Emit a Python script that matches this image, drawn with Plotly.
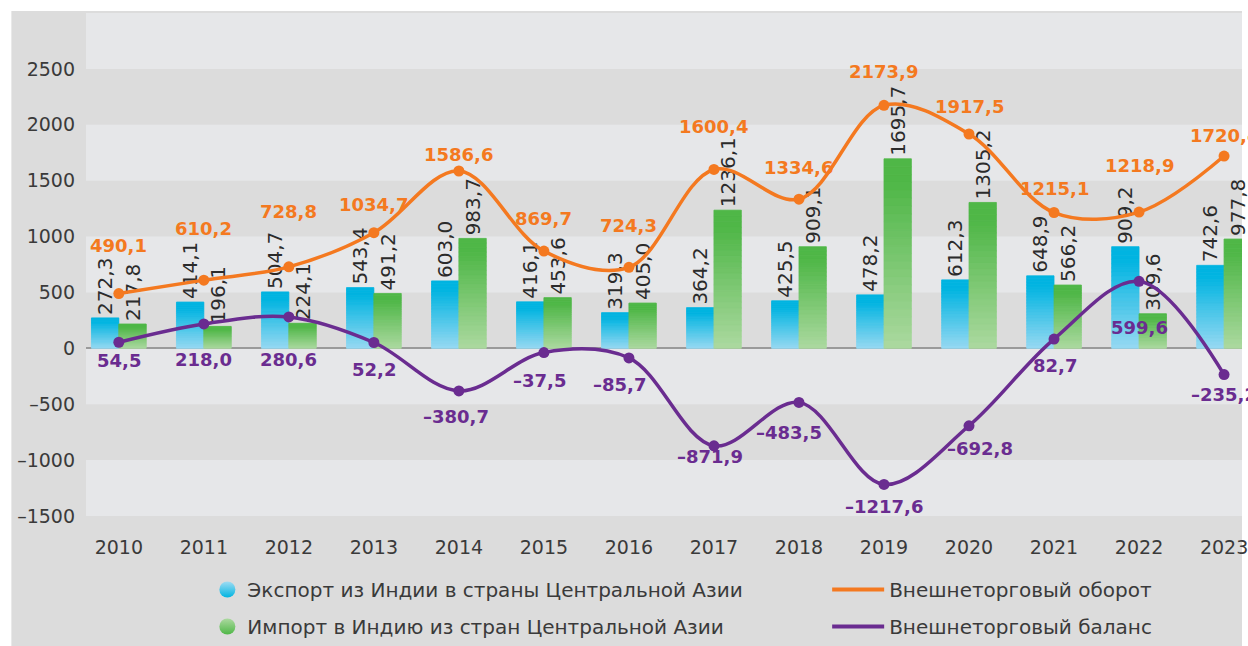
import plotly.graph_objects as go

years = [2010, 2011, 2012, 2013, 2014, 2015, 2016, 2017, 2018, 2019, 2020, 2021, 2022, 2023]
export_vals = [272.3, 414.1, 504.7, 543.4, 603.0, 416.1, 319.3, 364.2, 425.5, 478.2, 612.3, 648.9, 909.2, 742.6]
import_vals = [217.8, 196.1, 224.1, 491.2, 983.7, 453.6, 405.0, 1236.1, 909.1, 1695.7, 1305.2, 566.2, 309.6, 977.8]
turnover = [490.1, 610.2, 728.8, 1034.7, 1586.6, 869.7, 724.3, 1600.4, 1334.6, 2173.9, 1917.5, 1215.1, 1218.9, 1720.4]
balance = [54.5, 218.0, 280.6, 52.2, -380.7, -37.5, -85.7, -871.9, -483.5, -1217.6, -692.8, 82.7, 599.6, -235.2]

y_tickvals = [-1500, -1000, -500, 0, 500, 1000, 1500, 2000, 2500]
y_ticktext = ["–1500", "–1000", "–500", "0", "500", "1000", "1500", "2000", "2500"]

names = {
    "exp": "Экспорт из Индии в страны Центральной Азии",
    "imp": "Импорт в Индию из стран Центральной Азии",
    "turn": "Внешнеторговый оборот",
    "bal": "Внешнеторговый баланс",
}

# style-only label offsets (pixels)
turn_yshift = [48, 52, 55, 28, 16, 33, 42, 43, 32, 34, 28, 24, 47, 21]
bal_yshift = [-18, -36, -43, -27, -26, -28, -27, -11, -30, -22, -23, -26, -46, -20]
bal_xshift = [0, 0, 0, 0, -3, -4, -9, -4, -10, 0, 11, 1, 0, 0]

ORANGE = "#f47920"
PURPLE = "#6a2c90"
TEXT = "#2b2b2b"
TICK = "#3a3a3a"
FONT = "DejaVu Sans"

W, H = 1248, 646
ML, MT, MB = 86, 13, 130
PW, PH = W - ML, H - MT - MB
PX_PER_YEAR = 85.46
X0 = 2009.614


def fmt(v):
    s = f"{abs(v):.1f}".replace(".", ",")
    return ("–" if v < 0 else "") + s


def mix(c1, c2, t):
    a = [int(c1[i:i + 2], 16) for i in (1, 3, 5)]
    b = [int(c2[i:i + 2], 16) for i in (1, 3, 5)]
    return "rgb(%d,%d,%d)" % tuple(round(a[k] + (b[k] - a[k]) * t) for k in range(3))


fig = go.Figure()

N = 24
for key, vals, bottom, top in [
    ("exp", export_vals, "#97d9f2", "#00b4e1"),
    ("imp", import_vals, "#acd9a0", "#4fb747"),
]:
    for i in range(N):
        last = i == N - 1
        col = mix(bottom, top, min(1.0, (i + 0.5) / N * 1.15))
        fig.add_trace(go.Bar(
            x=years,
            y=[v / N for v in vals],
            base=[v * i / N for v in vals],
            offsetgroup=key,
            marker=dict(color=col, line=dict(width=0.8, color=col)),
            text=[fmt(v) for v in vals] if last else None,
            textposition="outside" if last else "none",
            textangle=-90,
            constraintext="none",
            cliponaxis=False,
            textfont=dict(family=FONT, size=20, color=TEXT),
            showlegend=False,
            hoverinfo="skip",
        ))

fig.add_trace(go.Scatter(
    x=years, y=turnover, mode="lines+markers", name=names["turn"], showlegend=False,
    line=dict(color=ORANGE, width=3.5, shape="spline", smoothing=1.0),
    marker=dict(color=ORANGE, size=11),
))
fig.add_trace(go.Scatter(
    x=years, y=balance, mode="lines+markers", name=names["bal"], showlegend=False,
    line=dict(color=PURPLE, width=3.5, shape="spline", smoothing=1.0),
    marker=dict(color=PURPLE, size=11),
))

# legend-only entries
fig.add_trace(go.Scatter(
    x=[None], y=[None], mode="markers", name=names["exp"], legend="legend", legendgroup="e",
    marker=dict(size=18, color="#9fdcf3", gradient=dict(type="vertical", color="#00b4e1")),
))
fig.add_trace(go.Scatter(
    x=[None], y=[None], mode="markers", name=names["imp"], legend="legend", legendgroup="i",
    marker=dict(size=18, color="#acd9a0", gradient=dict(type="vertical", color="#4fb747")),
))
fig.add_trace(go.Scatter(
    x=[None], y=[None], mode="lines", name=names["turn"], legend="legend2", legendgroup="t",
    line=dict(color=ORANGE, width=4),
))
fig.add_trace(go.Scatter(
    x=[None], y=[None], mode="lines", name=names["bal"], legend="legend2", legendgroup="b",
    line=dict(color=PURPLE, width=4),
))

annotations = []
for i, yr in enumerate(years):
    annotations.append(dict(
        x=yr, y=turnover[i], xref="x", yref="y", text=fmt(turnover[i]),
        showarrow=False, yshift=turn_yshift[i], yanchor="middle",
        font=dict(family=FONT, size=18, color=ORANGE, weight="bold"),
    ))
    annotations.append(dict(
        x=yr, y=balance[i], xref="x", yref="y", text=fmt(balance[i]),
        showarrow=False, yshift=bal_yshift[i], xshift=bal_xshift[i], yanchor="middle",
        font=dict(family=FONT, size=18, color=PURPLE, weight="bold"),
    ))

shapes = [
    dict(type="rect", xref="paper", yref="paper",
         x0=(11 - ML) / PW, x1=1.0, y0=-MB / PH, y1=(PH + MT - 11) / PH,
         fillcolor="#dcdcdc", line=dict(width=0), layer="below"),
]
for lo in [2500, 1500, 500, -500, -1500]:
    shapes.append(dict(type="rect", xref="paper", yref="y", x0=0, x1=1, y0=lo, y1=lo + 500,
                       fillcolor="#e6e7e9", line=dict(width=0), layer="below"))

fig.update_layout(
    width=W, height=H,
    margin=dict(l=ML, r=0, t=MT, b=MB, pad=0),
    paper_bgcolor="white",
    plot_bgcolor="rgba(0,0,0,0)",
    barmode="group", bargap=0.356, bargroupgap=0,
    font=dict(family=FONT, color=TEXT),
    xaxis=dict(
        range=[X0, X0 + PW / PX_PER_YEAR], tickvals=years, ticktext=[str(y) for y in years],
        showgrid=False, zeroline=False, showline=False, ticks="",
        tickfont=dict(family=FONT, size=19, color=TICK), ticklabelstandoff=18,
        ticklabeloverflow="allow",
    ),
    yaxis=dict(
        range=[-1500, 3000], tickvals=y_tickvals, ticktext=y_ticktext,
        showgrid=False, zeroline=True, zerolinecolor="#9a9a9a", zerolinewidth=2,
        showline=False, ticks="",
        tickfont=dict(family=FONT, size=19, color=TICK), ticklabelstandoff=10,
    ),
    shapes=shapes,
    annotations=annotations,
    legend=dict(
        x=(208 - ML) / PW, xanchor="left", y=-0.108, yanchor="top",
        orientation="v", bgcolor="rgba(0,0,0,0)", borderwidth=0, tracegroupgap=8,
        font=dict(family=FONT, size=20, color=TICK),
    ),
    legend2=dict(
        x=(831 - ML) / PW, xanchor="left", y=-0.108, yanchor="top",
        orientation="v", bgcolor="rgba(0,0,0,0)", borderwidth=0, tracegroupgap=8,
        itemwidth=52,
        font=dict(family=FONT, size=20, color=TICK),
    ),
    showlegend=True,
)

fig.write_html(
    "out.html",
    config={"displayModeBar": False},
    post_script="document.body.style.margin='0';document.body.style.overflow='hidden';"
                "document.documentElement.style.overflow='hidden';",
)
